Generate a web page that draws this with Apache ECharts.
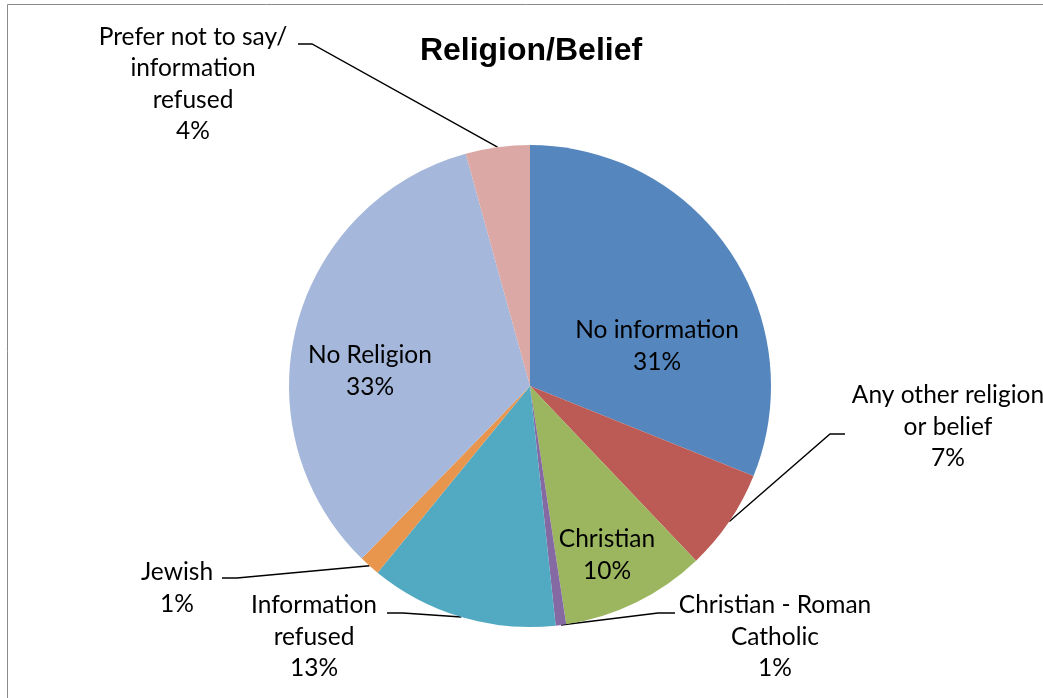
<!DOCTYPE html>
<html>
<head>
<meta charset="utf-8">
<title>Religion/Belief</title>
<script src="https://cdn.jsdelivr.net/npm/echarts@6/dist/echarts.min.js"></script>
<style>
  html, body { margin: 0; padding: 0; background: #ffffff; }
  #chart { width: 1043px; height: 698px; }
</style>
</head>
<body>
<div id="chart"></div>
<script>
// Slice names (line breaks as printed on the labels), clockwise from 12 o'clock
const categories = [
  'No information',
  'Any other religion\nor belief',
  'Christian',
  'Christian - Roman\nCatholic',
  'Information\nrefused',
  'Jewish',
  'No Religion',
  'Prefer not to say/\ninformation\nrefused'
];
// Share of respondents, percent
const shares = [31.1, 6.8, 9.7, 0.7, 12.6, 1.4, 33.4, 4.3];
const sliceColors = ['#5586BD', '#BC5B55', '#9CB660', '#8469A3', '#51A9C2', '#E8954E', '#A5B7DA', '#DCA8A6'];
const insideLabels = [true, false, true, false, false, false, true, false];

// Where each label block is centred, and the bend/end of its leader line
const labelSpots = {
  0: { x: 657, y: 346 },
  1: { x: 948, y: 427, bend: [830, 434], end: [845, 434] },
  2: { x: 607, y: 555 },
  3: { x: 775, y: 637, bend: [658, 613], end: [675, 613] },
  4: { x: 314, y: 637, bend: [403, 613], end: [387, 613] },
  5: { x: 177, y: 588, bend: [237, 578], end: [222, 578] },
  6: { x: 370, y: 371 },
  7: { x: 193, y: 84, bend: [312, 44], end: [298, 44] }
};

const chart = echarts.init(document.getElementById('chart'), null, { renderer: 'canvas' });

const pieData = categories.map((name, i) => ({
  name: name,
  value: shares[i],
  itemStyle: { color: sliceColors[i] },
  label: { position: insideLabels[i] ? 'inside' : 'outside' },
  labelLine: { show: !insideLabels[i] }
}));

chart.setOption({
  backgroundColor: '#ffffff',
  animation: false,
  title: {
    text: 'Religion/Belief',
    left: 526,
    top: 30,
    textAlign: 'center',
    textStyle: {
      fontFamily: '"Liberation Sans", Arial, sans-serif',
      fontWeight: 'bold',
      fontSize: 32,
      color: '#000000'
    }
  },
  graphic: [{
    type: 'rect',
    silent: true,
    shape: { x: 7.5, y: 4.5, width: 1100, height: 800 },
    style: { fill: null, stroke: '#8a8a8a', lineWidth: 1 }
  }],
  series: [{
    type: 'pie',
    center: [530, 386],
    radius: 241,
    startAngle: 90,
    clockwise: true,
    avoidLabelOverlap: false,
    itemStyle: { borderWidth: 0 },
    emphasis: { disabled: true },
    label: {
      show: true,
      color: '#000000',
      fontFamily: 'Lato, "Open Sans", sans-serif',
      fontSize: 24.5,
      lineHeight: 31.5,
      align: 'center',
      formatter: p => p.name + '\n' + Math.round(p.percent) + '%'
    },
    labelLine: {
      length: 20,
      length2: 15,
      lineStyle: { color: '#000000', width: 1.4 }
    },
    labelLayout: function (params) {
      const spot = labelSpots[params.dataIndex];
      const out = { x: spot.x, y: spot.y, align: 'center', verticalAlign: 'middle' };
      if (spot.bend && params.labelLinePoints) {
        out.labelLinePoints = [params.labelLinePoints[0], spot.bend, spot.end];
      }
      return out;
    },
    data: pieData
  }]
});
</script>
</body>
</html>
